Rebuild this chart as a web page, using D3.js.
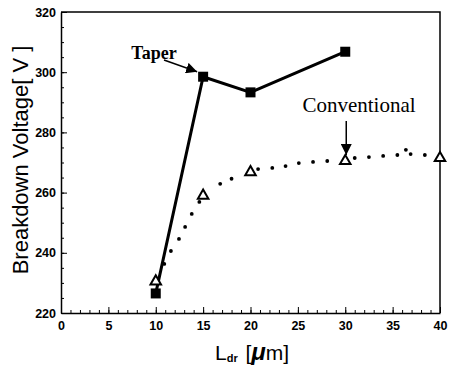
<!DOCTYPE html>
<html>
<head>
<meta charset="utf-8">
<script src="https://cdn.jsdelivr.net/npm/d3@7"></script>
<style>
  body { margin: 0; background: #fff; }
  svg { display: block; }
</style>
</head>
<body>
<svg id="chart" width="450" height="370"></svg>
<script>
// Taper device (filled squares, solid line)
var taperX = [10, 15, 20, 30];
var taperY = [226.5, 298.5, 293.3, 306.8];

// Conventional device (open triangles)
var convX = [10, 15, 20, 30, 40];
var convY = [230.5, 259, 266.8, 270.5, 271.5];

// Dotted fit curve through conventional points (dots)
var dotX = [10.9, 11.6, 12.45, 13.1, 13.8, 14.6, 16.8, 18.0, 20.8, 22.3, 23.7, 25.1, 26.6, 28.1, 31, 32.5, 34, 35.5, 36.4, 36.9, 38.4];
var dotY = [236.3, 240.6, 244.6, 248.6, 252.9, 256.9, 262.9, 264.6, 267.8, 268.2, 268.8, 269.8, 270.2, 270.5, 271.5, 271.8, 272.2, 272.5, 274.2, 272.8, 272.5];

var xTicks = [0, 5, 10, 15, 20, 25, 30, 35, 40];
var yTicks = [220, 240, 260, 280, 300, 320];

var svg = d3.select("#chart");

var x = d3.scaleLinear().domain([0, 40]).range([61, 440]);
var y = d3.scaleLinear().domain([220, 320]).range([313, 12]);

// frame (top and right edges)
svg.append("path")
  .attr("d", "M" + x(0) + "," + y(320) + "H" + x(40) + "V" + y(220))
  .attr("fill", "none")
  .attr("stroke", "#000")
  .attr("stroke-width", 1.5);

// minor ticks
svg.append("g")
  .attr("transform", "translate(0," + y(220) + ")")
  .call(d3.axisBottom(x).tickValues(d3.range(0, 41, 1)).tickSize(-3).tickFormat(""))
  .call(g => g.select(".domain").remove());
svg.append("g")
  .attr("transform", "translate(" + x(0) + ",0)")
  .call(d3.axisLeft(y).tickValues(d3.range(220, 321, 5)).tickSize(-3).tickFormat(""))
  .call(g => g.select(".domain").remove());

// major axes
var xAxis = svg.append("g")
  .attr("transform", "translate(0," + y(220) + ")")
  .call(d3.axisBottom(x).tickValues(xTicks).tickSize(-6).tickSizeOuter(0).tickPadding(8));
var yAxis = svg.append("g")
  .attr("transform", "translate(" + x(0) + ",0)")
  .call(d3.axisLeft(y).tickValues(yTicks).tickSize(-6).tickSizeOuter(0).tickPadding(5));

[xAxis, yAxis].forEach(function(g) {
  g.attr("font-family", "'Liberation Sans', Arial, sans-serif")
   .attr("font-size", 12.5)
   .attr("font-weight", "bold");
  g.select(".domain").attr("stroke-width", 1.5);
  g.selectAll("text").attr("fill", "#000").style("font-weight", "bold");
});

// taper line + squares
var line = d3.line().x(d => x(d[0])).y(d => y(d[1]));
var taper = d3.zip(taperX, taperY);
svg.append("path")
  .datum(taper)
  .attr("d", line)
  .attr("fill", "none")
  .attr("stroke", "#000")
  .attr("stroke-width", 3);
svg.selectAll(".sq")
  .data(taper)
  .enter().append("rect")
  .attr("x", d => x(d[0]) - 5)
  .attr("y", d => y(d[1]) - 5)
  .attr("width", 10)
  .attr("height", 10)
  .attr("fill", "#000");

// dotted curve
svg.selectAll(".dot")
  .data(d3.zip(dotX, dotY))
  .enter().append("circle")
  .attr("cx", d => x(d[0]))
  .attr("cy", d => y(d[1]))
  .attr("r", 1.9)
  .attr("fill", "#000");

// conventional triangles
var tri = d3.symbol().type(d3.symbolTriangle).size(48);
svg.selectAll(".tri")
  .data(d3.zip(convX, convY))
  .enter().append("path")
  .attr("d", tri)
  .attr("transform", d => "translate(" + x(d[0]) + "," + y(d[1]) + ")")
  .attr("fill", "#fff")
  .attr("stroke", "#000")
  .attr("stroke-width", 2);

// arrowheads
var defs = svg.append("defs");
defs.append("marker")
  .attr("id", "ah")
  .attr("viewBox", "0 0 10 10")
  .attr("refX", 10).attr("refY", 5)
  .attr("markerWidth", 11).attr("markerHeight", 11)
  .attr("markerUnits", "userSpaceOnUse")
  .attr("orient", "auto")
  .append("path").attr("d", "M0,0L10,5L0,10Z").attr("fill", "#000");

// Taper label
svg.append("text")
  .attr("x", 154).attr("y", 59)
  .attr("text-anchor", "middle")
  .style("font", "bold 18px 'Liberation Serif', 'Times New Roman', serif")
  .text("Taper");
svg.append("line")
  .attr("x1", 164).attr("y1", 60)
  .attr("x2", x(15) - 6).attr("y2", y(298.5) - 5)
  .attr("stroke", "#000").attr("stroke-width", 1.5)
  .attr("marker-end", "url(#ah)");

// Conventional label
svg.append("text")
  .attr("x", 359).attr("y", 112)
  .attr("text-anchor", "middle")
  .style("font", "21px 'Liberation Serif', 'Times New Roman', serif")
  .text("Conventional");
svg.append("line")
  .attr("x1", x(30) + 1).attr("y1", 121)
  .attr("x2", x(30) + 1).attr("y2", y(270.5) - 6)
  .attr("stroke", "#000").attr("stroke-width", 1.5)
  .attr("marker-end", "url(#ah)");

// axis titles
svg.append("text")
  .attr("transform", "translate(28,160) rotate(-90)")
  .attr("text-anchor", "middle")
  .style("font", "22px 'Liberation Sans', Arial, sans-serif")
  .text("Breakdown Voltage[ V ]");

var xt = svg.append("text")
  .attr("x", 215).attr("y", 360)
  .style("font", "21px 'Liberation Sans', Arial, sans-serif");
xt.append("tspan").text("L");
xt.append("tspan").attr("dy", 2).style("font", "bold 11px 'Liberation Sans', Arial, sans-serif").text("dr");
xt.append("tspan").attr("dy", -2).attr("dx", 2).text(" [");
xt.append("tspan").style("font", "italic bold 24px 'Liberation Sans', Arial, sans-serif").text("\u03bc");
xt.append("tspan").text("m]");
</script>
</body>
</html>
